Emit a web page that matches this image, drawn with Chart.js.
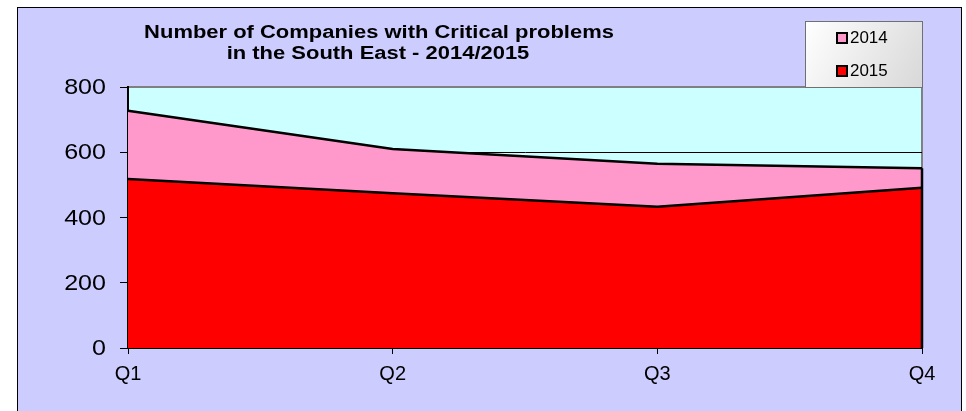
<!DOCTYPE html>
<html>
<head>
<meta charset="utf-8">
<script src="https://cdn.jsdelivr.net/npm/chart.js@4.4.1/dist/chart.umd.min.js"></script>
<style>
  html, body { margin: 0; padding: 0; background: #ffffff; }
  #wrap { width: 966px; height: 411px; }
</style>
</head>
<body>
<div id="wrap"><canvas id="c" width="966" height="411"></canvas></div>
<script>
const categories = ['Q1', 'Q2', 'Q3', 'Q4'];
const series2014 = [727, 610, 565, 551];
const series2015 = [518, 474, 433, 491];
const seriesLabels = ['2014', '2015'];
const titleLines = ['Number of Companies with Critical problems', 'in the South East - 2014/2015'];
const yTicks = [0, 200, 400, 600, 800];

const FONT = '"Liberation Sans", Arial, sans-serif';

function stretchText(ctx, text, x, y, sx, align) {
  ctx.save();
  ctx.translate(x, y);
  ctx.scale(sx, 1);
  ctx.textAlign = align;
  ctx.fillText(text, 0, 0);
  ctx.restore();
}

const decor = {
  id: 'decor',
  beforeDraw(chart) {
    const ctx = chart.ctx;
    const a = chart.chartArea;
    ctx.save();
    ctx.fillStyle = '#ffffff';
    ctx.fillRect(0, 0, chart.width, chart.height);
    ctx.fillStyle = '#CCCCFF';
    ctx.fillRect(17, 7, 944, 420);
    ctx.strokeStyle = '#000000';
    ctx.lineWidth = 1;
    ctx.strokeRect(17.5, 7.5, 944, 420);
    ctx.fillStyle = '#CCFFFF';
    ctx.fillRect(a.left, a.top, a.right - a.left, a.bottom - a.top);
    ctx.strokeStyle = '#808080';
    ctx.lineWidth = 2;
    ctx.strokeRect(a.left, a.top, a.right - a.left, a.bottom - a.top);
    ctx.restore();
  },
  afterDatasetsDraw(chart) {
    const ctx = chart.ctx;
    const xs = chart.scales.x, ys = chart.scales.y;
    const last = categories.length - 1;
    const x = xs.getPixelForValue(last);
    const top = Math.max(series2014[last], series2015[last]);
    ctx.save();
    ctx.strokeStyle = '#000000';
    ctx.lineWidth = 2.5;
    ctx.beginPath();
    ctx.moveTo(x, ys.getPixelForValue(top));
    ctx.lineTo(x, ys.getPixelForValue(0));
    ctx.stroke();
    ctx.restore();
  },
  afterDraw(chart) {
    const ctx = chart.ctx;
    const ys = chart.scales.y;
    ctx.save();
    ctx.fillStyle = '#000000';
    ctx.textBaseline = 'middle';
    // y tick labels (slightly wide, like the reference)
    ctx.font = '22px ' + FONT;
    ys.ticks.forEach(t => {
      stretchText(ctx, String(t.value), 106, ys.getPixelForValue(t.value) + 1, 1.14, 'right');
    });
    // title
    ctx.font = 'bold 18px ' + FONT;
    stretchText(ctx, titleLines[0], 379, 33, 1.22, 'center');
    stretchText(ctx, titleLines[1], 378, 54, 1.22, 'center');
    // legend box
    const lx = 805, ly = 21, lw = 117, lh = 66;
    const g = ctx.createLinearGradient(lx, ly, lx + lw, ly + lh);
    g.addColorStop(0, '#ffffff');
    g.addColorStop(1, '#d8d8d8');
    ctx.fillStyle = g;
    ctx.fillRect(lx, ly, lw, lh);
    ctx.strokeStyle = '#707070';
    ctx.lineWidth = 1;
    ctx.strokeRect(lx + 0.5, ly + 0.5, lw, lh);
    const rows = [38, 71];
    chart.data.datasets.forEach((ds, i) => {
      const cy = rows[i];
      ctx.fillStyle = ds.backgroundColor;
      ctx.fillRect(837, cy - 5, 10, 10);
      ctx.strokeStyle = '#000000';
      ctx.lineWidth = 2;
      ctx.strokeRect(837, cy - 5, 10, 10);
      ctx.fillStyle = '#000000';
      ctx.font = '16px ' + FONT;
      stretchText(ctx, ds.label, 850, cy + 1, 1.06, 'left');
    });
    ctx.restore();
  }
};

new Chart(document.getElementById('c'), {
  type: 'line',
  data: {
    labels: categories,
    datasets: [
      {
        label: seriesLabels[0],
        data: series2014,
        backgroundColor: '#FF99CC',
        borderColor: '#000000',
        borderWidth: 2.5,
        fill: 'origin',
        pointRadius: 0,
        tension: 0,
        order: 2
      },
      {
        label: seriesLabels[1],
        data: series2015,
        backgroundColor: '#FF0000',
        borderColor: '#000000',
        borderWidth: 2.5,
        fill: 'origin',
        pointRadius: 0,
        tension: 0,
        order: 1
      }
    ]
  },
  options: {
    responsive: false,
    animation: false,
    devicePixelRatio: 1,
    layout: { padding: { top: 87, right: 44, left: 0, bottom: 0 } },
    plugins: {
      legend: { display: false },
      title: { display: false },
      tooltip: { enabled: false }
    },
    scales: {
      x: {
        offset: false,
        afterFit(s) { s.height = 63; },
        grid: { drawOnChartArea: false, drawTicks: true, tickLength: 6, color: '#000000', lineWidth: 1 },
        border: { display: true, color: '#000000', width: 2 },
        ticks: { color: '#000000', font: { family: FONT, size: 20 }, padding: 8, maxRotation: 0 }
      },
      y: {
        min: 0,
        max: 800,
        afterFit(s) { s.width = 128; },
        afterBuildTicks(s) { s.ticks = yTicks.map(v => ({ value: v })); },
        grid: {
          drawTicks: true,
          tickLength: 8,
          lineWidth: 1,
          color: (c) => (c.tick && c.tick.value === 800) ? '#808080' : '#000000',
          tickColor: '#000000'
        },
        border: { display: true, color: '#000000', width: 2 },
        ticks: { display: false }
      }
    }
  },
  plugins: [decor]
});
</script>
</body>
</html>
